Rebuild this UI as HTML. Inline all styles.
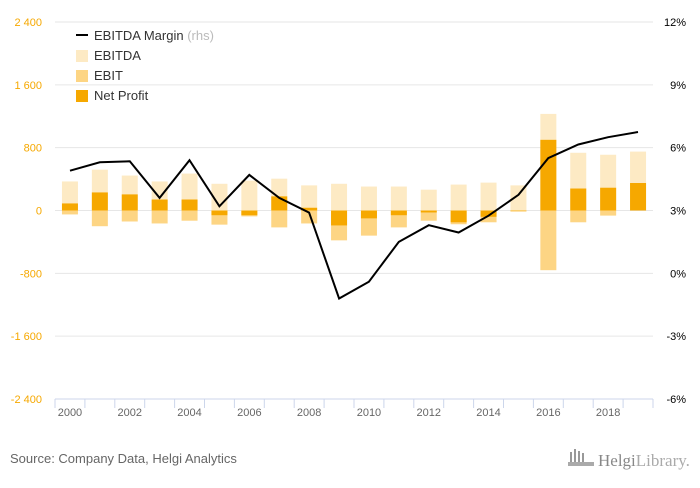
<!DOCTYPE html>
<html><head><meta charset="utf-8"><style>
body{margin:0;background:#fff;width:700px;height:483px;overflow:hidden;font-family:"Liberation Sans",sans-serif}
</style></head><body>
<svg width="700" height="483">
<g id="grid"></g><g id="bars"></g><g id="line"></g><g id="axes"></g>
<g font-size="13" fill="#333">
<line x1="76" y1="35" x2="88" y2="35" stroke="#000" stroke-width="2"/>
<text x="94" y="40">EBITDA Margin <tspan fill="#bbb">(rhs)</tspan></text>
<rect x="76" y="50" width="12" height="12" fill="#fdeac4"/>
<text x="94" y="60">EBITDA</text>
<rect x="76" y="70" width="12" height="12" fill="#fdd584"/>
<text x="94" y="80">EBIT</text>
<rect x="76" y="90" width="12" height="12" fill="#f6a800"/>
<text x="94" y="100">Net Profit</text>
</g>
<text x="10" y="463" font-size="13" fill="#666">Source: Company Data, Helgi Analytics</text>
<g>
<rect x="570" y="452" width="2" height="10" fill="#999"/><rect x="574" y="449" width="2" height="13" fill="#999"/><rect x="578" y="451" width="2" height="11" fill="#999"/><rect x="582" y="453" width="2" height="9" fill="#999"/><rect x="568" y="462" width="26" height="4" fill="#aaa"/>
<text x="598" y="466" font-size="17" fill="#888" font-family="Liberation Serif,serif">Helgi<tspan fill="#aaa">Library.</tspan></text>
</g>
</svg>
<script>
const years=[2000,2001,2002,2003,2004,2005,2006,2007,2008,2009,2010,2011,2012,2013,2014,2015,2016,2017,2018,2019];
const ebitda=[370,520,445,370,470,340,380,405,320,340,305,305,265,330,355,320,1230,735,710,750];
const ebit=[-50,-200,-140,-165,-130,-180,-75,-215,-165,-380,-320,-215,-130,-175,-150,-15,-760,-150,-65,0];
const netProfit=[90,230,205,140,140,-60,-60,180,35,-190,-100,-60,-25,-150,-80,-5,900,280,290,350];
const margin=[4.9,5.3,5.35,3.6,5.4,3.2,4.7,3.6,2.9,-1.2,-0.4,1.5,2.3,1.95,2.75,3.75,5.5,6.15,6.5,6.75];
const leftTicks=[2400,1600,800,0,-800,-1600,-2400];
const leftLabels=["2 400","1 600","800","0","-800","-1 600","-2 400"];
const rightTicks=[12,9,6,3,0,-3,-6];
const NS="http://www.w3.org/2000/svg";
const X0=55,X1=653,Y0=22,Y1=399;
const step=(X1-X0)/years.length;
const xc=i=>X0+step*(i+0.5);
const yL=v=>Y0+(2400-v)/4800*(Y1-Y0);
const yR=v=>Y0+(12-v)/18*(Y1-Y0);
function mk(tag,attrs,parent,txt){const e=document.createElementNS(NS,tag);for(const k in attrs)e.setAttribute(k,attrs[k]);if(txt!==undefined)e.textContent=txt;document.getElementById(parent).appendChild(e);return e;}
leftTicks.forEach((t,i)=>{
 const g=mk('line',{x1:X0,x2:X1,y1:yL(t),y2:yL(t),stroke:'#e6e6e6'},'grid');
 
 
 const l=mk('text',{x:42,y:yL(t)+4,'text-anchor':'end','font-size':11,fill:'#f6a800'},'axes',leftLabels[i]);
 
 
});
rightTicks.forEach(t=>{
 const l=mk('text',{x:686,y:yR(t)+4,'text-anchor':'end','font-size':11,fill:'#000'},'axes',t+'%');
 
 
});
const bw=16;
function bar(v,i,col,name){
 const y=Math.min(yL(v),yL(0)),h=Math.abs(yL(v)-yL(0));
 const r=mk('rect',{x:xc(i)-bw/2,y:y,width:bw,height:Math.max(h,0),fill:col},'bars');
 
 
}
years.forEach((y,i)=>{bar(ebitda[i],i,'#fdeac4','bar-ebitda');bar(ebit[i],i,'#fdd584','bar-ebit');bar(netProfit[i],i,'#f6a800','bar-net-profit');});
const pts=margin.map((m,i)=>xc(i).toFixed(1)+','+yR(m).toFixed(1)).join(' ');
const pl=mk('polyline',{points:pts,fill:'none',stroke:'#000','stroke-width':2},'line');


const ax=mk('line',{x1:X0,x2:X1,y1:Y1,y2:Y1,stroke:'#ccd6eb'},'axes');


for(let i=0;i<=years.length;i++){
 const t=mk('line',{x1:X0+step*i,x2:X0+step*i,y1:Y1,y2:Y1+9,stroke:'#ccd6eb'},'axes');
 
 
}
years.forEach((y,i)=>{if(i%2===0){
 const l=mk('text',{x:xc(i),y:Y1+17,'text-anchor':'middle','font-size':11,fill:'#666'},'axes',y);
 
 
}});
</script>
</body></html>
